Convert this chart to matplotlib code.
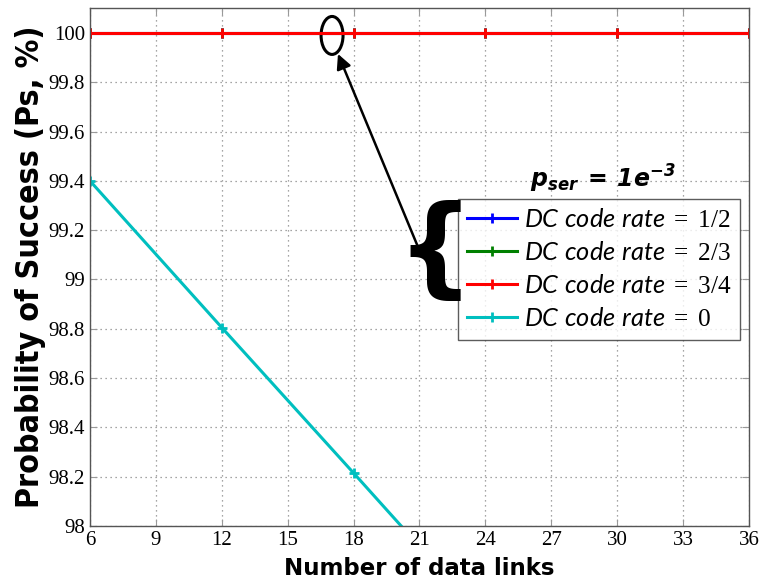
import numpy as np
import matplotlib
matplotlib.use('Agg')
import matplotlib.pyplot as plt
from matplotlib import font_manager
from matplotlib.font_manager import FontProperties
from matplotlib.patches import Ellipse

# Data #
links = [6, 12, 18, 24, 30, 36]
ps_rate_12 = [100, 100, 100, 100, 100, 100]
ps_rate_23 = [100, 100, 100, 100, 100, 100]
ps_rate_34 = [100, 100, 100, 100, 100, 100]
ps_rate_0 = [99.40, 98.805, 98.215, 97.62, 97.03, 96.44]

rates = ['1/2', '2/3', '3/4', '0']
colors = ['#0000ff', '#008000', '#ff0000', '#00bfbf']
xticks = list(range(6, 37, 3))
yticks = [98, 98.2, 98.4, 98.6, 98.8, 99, 99.2, 99.4, 99.6, 99.8, 100]
ytick_labels = ['98', '98.2', '98.4', '98.6', '98.8', '99', '99.2', '99.4', '99.6', '99.8', '100']

# Mathtext fonts: italic sans for legend words, serif for numbers, bold italic for p_ser #
plt.rcParams['mathtext.fontset'] = 'custom'
plt.rcParams['mathtext.it'] = 'Lato:italic'
plt.rcParams['mathtext.rm'] = 'Liberation Serif'
plt.rcParams['mathtext.bf'] = 'DejaVu Sans:bold:italic'

# Condensed bold font for the y label if there is one #
cond = [f.fname for f in font_manager.fontManager.ttflist
        if 'condensed' in f.fname.lower() and 'bold' in f.fname.lower()
        and 'oblique' not in f.fname.lower() and 'italic' not in f.fname.lower()]
if cond:
    yl_font = FontProperties(fname=cond[0], size=23)
else:
    yl_font = FontProperties(family='DejaVu Sans', weight='bold', size=20.5)
xl_font = FontProperties(family='DejaVu Sans', weight='bold', size=16.5)

fig = plt.figure(figsize=(7.6, 5.82), dpi=100)
ax = fig.add_axes([0.1184, 0.0962, 0.8671, 0.8895])

series = [ps_rate_12, ps_rate_23, ps_rate_34, ps_rate_0]
for ys, c, r in zip(series, colors, rates):
    lab = '$\\mathit{DC\\ code\\ rate}\\;\\mathrm{=}\\;\\mathrm{' + r + '}$'
    ax.plot(links, ys, color=c, lw=2.2, marker='+', ms=7, mew=2, label=lab)

ax.set_xlim(6, 36)
ax.set_ylim(98, 100.1)
ax.set_xticks(xticks)
ax.set_yticks(yticks)
ax.set_yticklabels(ytick_labels)
ax.tick_params(direction='in', top=True, right=True, length=5, color='#999999',
               labelsize=15)
for lbl in ax.get_xticklabels() + ax.get_yticklabels():
    lbl.set_family('Liberation Serif')
ax.grid(True, color='#888888', linestyle=(0, (1, 3)), lw=0.9)
for sp in ax.spines.values():
    sp.set_color('#555555')
    sp.set_linewidth(1)

ax.set_xlabel('Number of data links', fontproperties=xl_font, labelpad=5)
ax.set_ylabel('Probability of Success (Ps, %)', fontproperties=yl_font, labelpad=2)

# Legend #
leg = ax.legend(loc='upper left', bbox_to_anchor=(0.558, 0.632), borderaxespad=0,
                frameon=True, fancybox=False, edgecolor='#333333', borderpad=0.35,
                handlelength=2.0, handletextpad=0.25, labelspacing=0.36,
                prop={'size': 18.3})
leg.get_frame().set_linewidth(1)

ax.text(0.668, 0.653, '$\\mathbf{p_{ser}\\ =\\ 1e^{-3}}$', transform=ax.transAxes,
        fontsize=17, va='baseline')
fig.text(0.572, 0.566, '{', fontsize=78, family='DejaVu Sans', fontweight='bold',
         ha='center', va='center', color='black')

# Annotation ellipse and arrow #
ax.add_patch(Ellipse((17.02, 99.99), 1.0, 0.154, fill=False, lw=2.2, color='black'))
ax.annotate('', xy=(17.29, 99.915), xytext=(20.95, 99.128),
            arrowprops=dict(arrowstyle='-|>', color='black', lw=1.8, mutation_scale=22,
                            shrinkA=0, shrinkB=0))

fig.savefig('out.png', dpi=100)
